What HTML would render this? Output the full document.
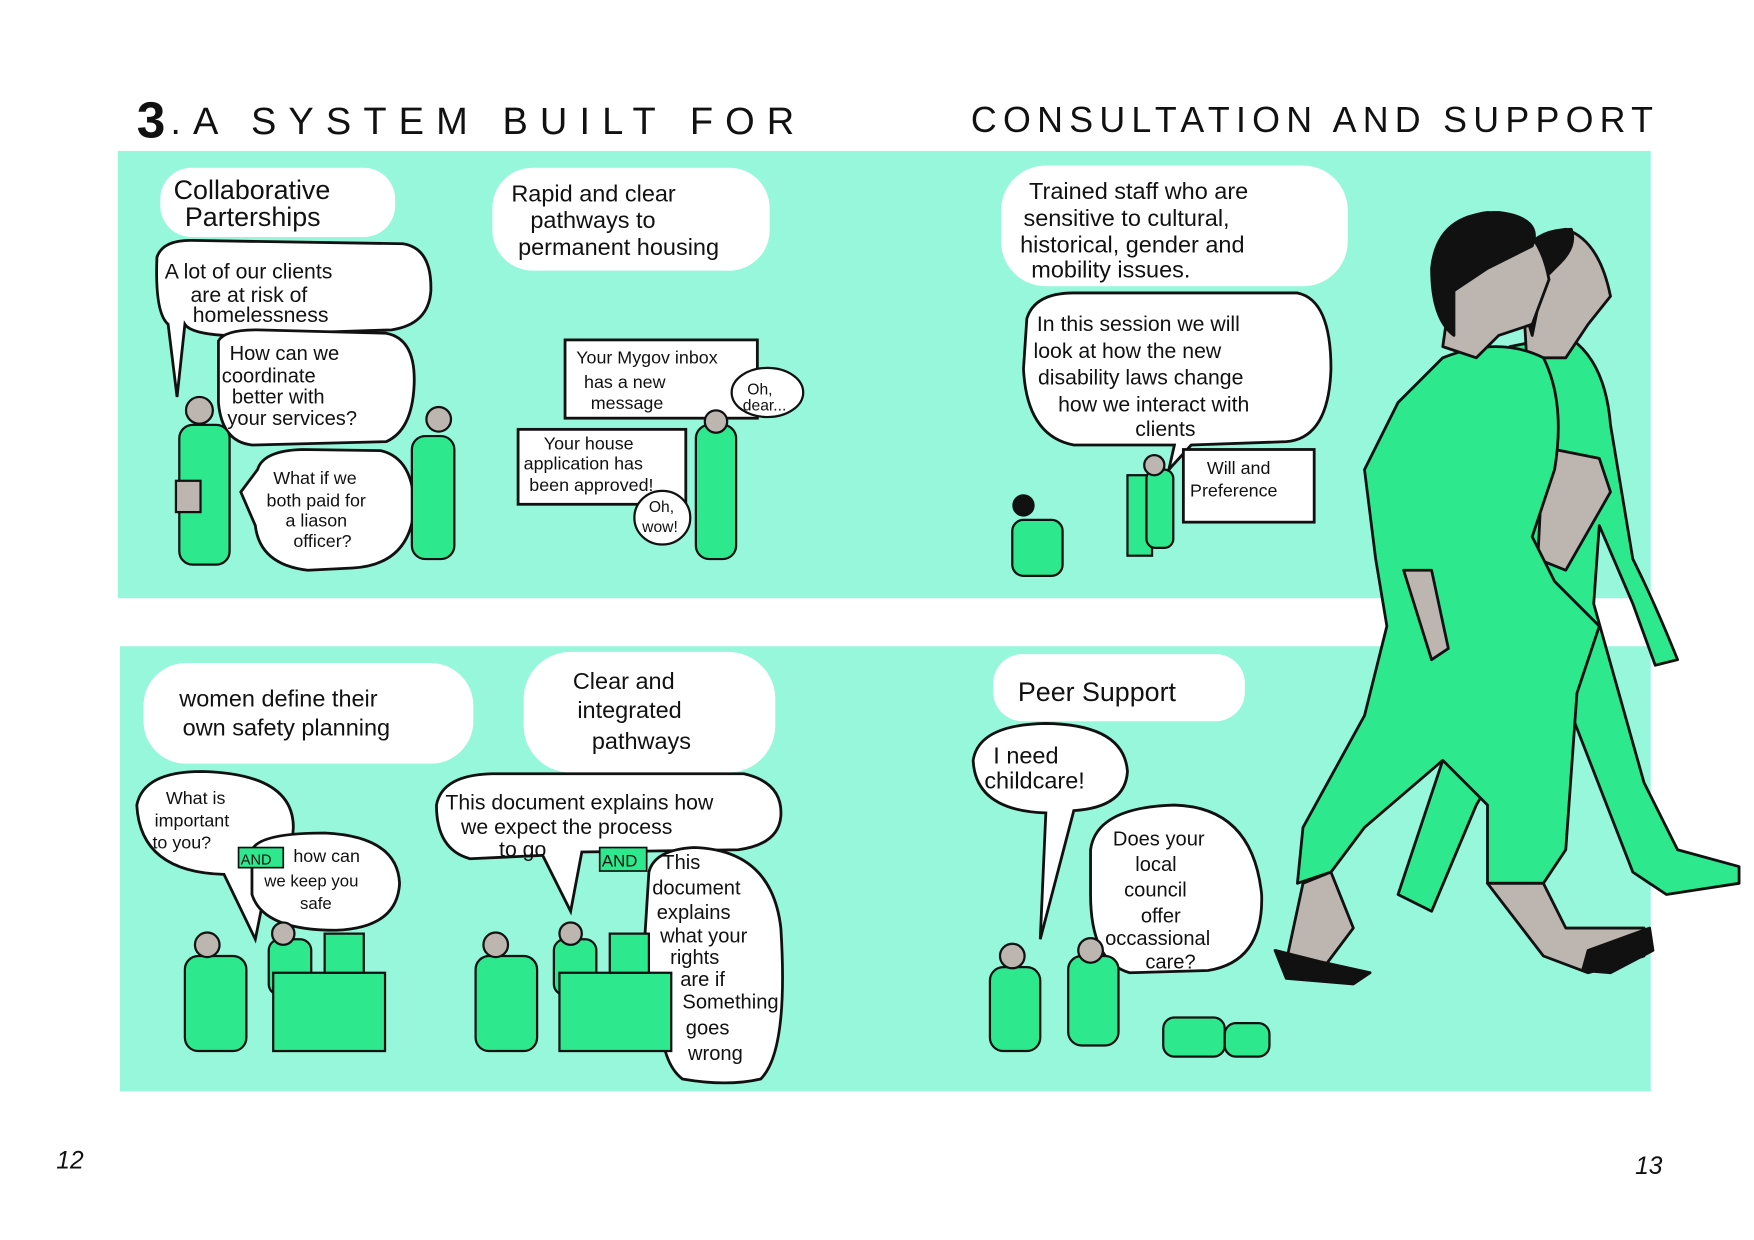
<!DOCTYPE html>
<html><head><meta charset="utf-8"><style>
html,body{margin:0;padding:0;background:#fff;}
svg{display:block}
text{font-family:"Liberation Sans",sans-serif;fill:#111;}
</style></head><body>
<svg width="1754" height="1240" viewBox="0 0 1568 1109" xmlns="http://www.w3.org/2000/svg">
<rect width="1568" height="1109" fill="#fff"/>
<!-- title -->
<text x="122" y="123" font-size="46" font-weight="bold">3</text>
<text x="152" y="120" font-size="34" textLength="558" lengthAdjust="spacing">.A SYSTEM  BUILT  FOR</text>
<text x="868" y="118" font-size="32" textLength="610" lengthAdjust="spacing">CONSULTATION  AND  SUPPORT</text>
<!-- panels -->
<rect x="105" y="135" width="1371" height="400" fill="#96f7da"/>
<rect x="107" y="578" width="1369" height="398" fill="#96f7da"/>

<g font-size="21">
<rect x="143" y="150" width="210" height="62" rx="28" fill="#fff"/>
<text x="155" y="178" font-size="24">Collaborative</text>
<text x="165" y="202" font-size="24">Parterships</text>
<rect x="440" y="150" width="248" height="92" rx="36" fill="#fff"/>
<text x="457" y="180" font-size="21">Rapid and clear</text>
<text x="474" y="204" font-size="21">pathways to</text>
<text x="463" y="228" font-size="21">permanent housing</text>
<rect x="895" y="148" width="310" height="108" rx="40" fill="#fff"/>
<text x="920" y="178">Trained staff who are</text>
<text x="915" y="202">sensitive to cultural,</text>
<text x="912" y="226">historical, gender and</text>
<text x="922" y="248">mobility issues.</text>

<path d="M140 230 Q145 215 170 215 L360 218 Q386 222 385 260 Q383 290 350 295 L200 300 Q170 298 165 290 L158 355 L150 290 Q138 280 140 230Z" fill="#fff" stroke="#111" stroke-width="2.5"/>
<text x="147" y="249" font-size="19">A lot of our clients</text>
<text x="170" y="270" font-size="19">are at risk of</text>
<text x="172" y="288" font-size="19">homelessness</text>
<path d="M195 305 Q200 295 230 295 L345 298 Q372 303 370 345 Q368 385 345 395 L225 398 Q198 395 195 360Z" fill="#fff" stroke="#111" stroke-width="2.5"/>
<text x="205" y="322" font-size="18">How can we</text>
<text x="198" y="342" font-size="18">coordinate</text>
<text x="207" y="361" font-size="18">better with</text>
<text x="203" y="380" font-size="18">your services?</text>
<path d="M230 420 Q235 403 270 402 L340 403 Q370 410 370 455 Q366 505 315 508 L275 510 Q232 505 228 470 L215 440Z" fill="#fff" stroke="#111" stroke-width="2.5"/>
<text x="244" y="433" font-size="16">What if we</text>
<text x="238" y="453" font-size="16">both paid for</text>
<text x="255" y="471" font-size="16">a liason</text>
<text x="262" y="489" font-size="16">officer?</text>

<rect x="505" y="304" width="172" height="70" fill="#fff" stroke="#111" stroke-width="2.5"/>
<text x="515" y="325" font-size="16">Your Mygov inbox</text>
<text x="522" y="347" font-size="16">has a new</text>
<text x="528" y="366" font-size="16">message</text>
<ellipse cx="686" cy="351" rx="32" ry="22" fill="#fff" stroke="#111" stroke-width="2"/>
<text x="668" y="353" font-size="14">Oh,</text><text x="664" y="367" font-size="14">dear...</text>
<rect x="463" y="384" width="150" height="67" fill="#fff" stroke="#111" stroke-width="2.5"/>
<text x="486" y="402" font-size="16">Your house</text>
<text x="468" y="420" font-size="16">application has</text>
<text x="473" y="439" font-size="16">been approved!</text>
<ellipse cx="592" cy="463" rx="25" ry="24" fill="#fff" stroke="#111" stroke-width="2"/>
<text x="580" y="458" font-size="14">Oh,</text><text x="574" y="476" font-size="14">wow!</text>

<path d="M918 285 Q925 262 960 262 L1160 262 Q1190 268 1190 330 Q1188 392 1150 395 L1065 398 L1045 420 L1050 398 L960 398 Q918 390 915 330Z" fill="#fff" stroke="#111" stroke-width="2.5"/>
<text x="927" y="296" font-size="19">In this session we will</text>
<text x="924" y="320" font-size="19">look at how the new</text>
<text x="928" y="344" font-size="19">disability laws change</text>
<text x="946" y="368" font-size="19">how we interact with</text>
<text x="1015" y="390" font-size="19">clients</text>
<rect x="1058" y="402" width="117" height="65" fill="#fff" stroke="#111" stroke-width="2.5"/>
<text x="1079" y="424" font-size="16">Will and</text>
<text x="1064" y="444" font-size="16">Preference</text>

<rect x="128" y="593" width="295" height="90" rx="38" fill="#fff"/>
<text x="160" y="632">women define their</text>
<text x="163" y="658">own safety planning</text>
<rect x="468" y="583" width="225" height="108" rx="42" fill="#fff"/>
<text x="512" y="616">Clear  and</text>
<text x="516" y="642">integrated</text>
<text x="529" y="670">pathways</text>
<rect x="888" y="585" width="225" height="60" rx="26" fill="#fff"/>
<text x="910" y="627" font-size="24">Peer  Support</text>

<path d="M122 720 Q128 690 180 690 Q262 692 262 740 Q260 775 240 780 L228 840 L200 782 Q125 780 122 720Z" fill="#fff" stroke="#111" stroke-width="2.5"/>
<text x="148" y="719" font-size="16">What is</text>
<text x="138" y="739" font-size="16">important</text>
<text x="136" y="759" font-size="16">to you?</text>
<path d="M225 760 Q232 745 290 745 Q355 748 357 790 Q355 830 300 832 Q235 832 225 800Z" fill="#fff" stroke="#111" stroke-width="2.5"/>
<rect x="213" y="758" width="40" height="18" fill="#2ee88e" stroke="#111" stroke-width="1.5"/>
<text x="215" y="773" font-size="13">AND</text>
<text x="262" y="771" font-size="16">how can</text>
<text x="236" y="793" font-size="15">we keep you</text>
<text x="268" y="813" font-size="15">safe</text>
<path d="M390 720 Q395 693 440 692 L665 692 Q700 700 698 730 Q696 755 660 760 L520 762 L510 815 L485 765 L420 768 Q390 760 390 720Z" fill="#fff" stroke="#111" stroke-width="2.5"/>
<text x="398" y="724" font-size="19">This document explains how</text>
<text x="412" y="746" font-size="19">we expect the process</text>
<text x="446" y="766" font-size="19">to go</text>
<path d="M580 780 Q585 760 620 758 Q690 760 698 830 Q705 940 680 965 Q650 972 610 965 Q590 950 590 900 L575 860 Z" fill="#fff" stroke="#111" stroke-width="2.5"/>
<rect x="536" y="758" width="42" height="21" fill="#2ee88e" stroke="#111" stroke-width="1.5"/>
<text x="538" y="775" font-size="15">AND</text>
<text x="592" y="777" font-size="18">This</text>
<text x="583" y="800" font-size="18">document</text>
<text x="587" y="822" font-size="18">explains</text>
<text x="590" y="843" font-size="18">what your</text>
<text x="599" y="862" font-size="18">rights</text>
<text x="608" y="882" font-size="18">are if</text>
<text x="610" y="902" font-size="18">Something</text>
<text x="613" y="925" font-size="18">goes</text>
<text x="615" y="948" font-size="18">wrong</text>
<path d="M870 680 Q875 648 935 647 Q1005 648 1008 690 Q1006 722 960 725 L930 840 L935 727 Q872 725 870 680Z" fill="#fff" stroke="#111" stroke-width="2.5"/>
<text x="888" y="683" font-size="21">I need</text>
<text x="880" y="705" font-size="21">childcare!</text>
<path d="M975 760 Q980 722 1050 720 Q1120 722 1128 800 Q1130 860 1080 868 L1010 870 Q975 860 975 800Z" fill="#fff" stroke="#111" stroke-width="2.5"/>
<text x="995" y="756" font-size="18">Does your</text>
<text x="1015" y="779" font-size="18">local</text>
<text x="1005" y="802" font-size="18">council</text>
<text x="1020" y="825" font-size="18">offer</text>
<text x="988" y="845" font-size="18">occassional</text>
<text x="1024" y="866" font-size="18">care?</text>
</g>

<g fill="#2ee88e" stroke="#111" stroke-width="2">
<rect x="160" y="380" width="45" height="125" rx="12"/>
<circle cx="178" cy="367" r="12" fill="#bdb5b0"/>
<rect x="157" y="430" width="22" height="28" fill="#bdb5b0"/>
<rect x="368" y="390" width="38" height="110" rx="12"/>
<circle cx="392" cy="375" r="11" fill="#bdb5b0"/>
<rect x="622" y="380" width="36" height="120" rx="12"/>
<circle cx="640" cy="377" r="10" fill="#bdb5b0"/>
<rect x="1008" y="425" width="22" height="72"/>
<rect x="1025" y="420" width="24" height="70" rx="8"/>
<circle cx="1032" cy="416" r="9" fill="#bdb5b0"/>
<rect x="905" y="465" width="45" height="50" rx="10"/>
<circle cx="915" cy="452" r="9" fill="#111"/>
<rect x="165" y="855" width="55" height="85" rx="12"/>
<circle cx="185" cy="845" r="11" fill="#bdb5b0"/>
<rect x="240" y="840" width="38" height="50" rx="10"/>
<circle cx="253" cy="835" r="10" fill="#bdb5b0"/>
<rect x="244" y="870" width="100" height="70"/>
<rect x="290" y="835" width="35" height="35"/>
<rect x="425" y="855" width="55" height="85" rx="12"/>
<circle cx="443" cy="845" r="11" fill="#bdb5b0"/>
<rect x="495" y="840" width="38" height="50" rx="10"/>
<circle cx="510" cy="835" r="10" fill="#bdb5b0"/>
<rect x="500" y="870" width="100" height="70"/>
<rect x="545" y="835" width="35" height="35"/>
<rect x="885" y="865" width="45" height="75" rx="12"/>
<circle cx="905" cy="855" r="11" fill="#bdb5b0"/>
<rect x="955" y="855" width="45" height="80" rx="12"/>
<circle cx="975" cy="850" r="11" fill="#bdb5b0"/>
<rect x="1040" y="910" width="55" height="35" rx="10"/>
<rect x="1095" y="915" width="40" height="30" rx="10"/>
</g>

<g stroke="#111" stroke-width="2.5" stroke-linejoin="round">
<path d="M1350 310 L1400 300 Q1435 320 1440 380 L1460 500 Q1480 540 1500 590 L1480 595 L1460 540 L1430 470 L1425 540 L1470 700 L1500 760 L1555 775 L1555 790 L1490 800 L1460 780 L1390 600 L1320 720 L1280 815 L1250 800 L1300 650 L1360 540 L1340 450Z" fill="#2ee88e"/>
<path d="M1360 230 Q1370 210 1400 205 Q1430 215 1440 265 L1420 290 L1400 320 L1365 320Z" fill="#bdb5b0"/>
<path d="M1355 250 Q1360 205 1405 205 Q1410 220 1395 235 L1380 250 L1370 300Z" fill="#111"/>
<path d="M1380 400 L1430 410 L1440 440 L1400 510 L1375 500Z" fill="#bdb5b0"/>
<path d="M1290 320 Q1340 300 1380 320 Q1400 360 1390 420 L1370 480 L1390 520 L1430 560 L1410 620 L1400 760 L1380 790 L1330 790 L1330 720 L1290 680 L1220 740 L1190 780 L1160 790 L1165 740 L1220 640 L1240 560 L1230 500 L1220 420 L1250 360Z" fill="#2ee88e"/>
<path d="M1300 240 Q1290 195 1330 190 Q1375 195 1385 250 L1370 290 L1340 300 L1320 320 L1290 310Z" fill="#bdb5b0"/>
<path d="M1280 240 Q1285 190 1340 190 Q1380 195 1370 220 L1330 240 L1300 260 L1300 300 Q1280 285 1280 240Z" fill="#111"/>
<path d="M1330 790 L1380 790 L1400 830 L1470 830 L1470 855 L1420 870 L1380 855Z" fill="#bdb5b0"/>
<path d="M1165 790 L1190 780 L1210 830 L1180 870 L1150 860Z" fill="#bdb5b0"/>
<path d="M1140 850 L1180 860 L1225 870 L1210 880 L1150 875Z" fill="#111"/>
<path d="M1420 850 L1475 830 L1478 850 L1440 870 L1415 868Z" fill="#111"/>
<path d="M1255 510 L1280 510 L1295 580 L1280 590Z" fill="#bdb5b0"/>
</g>

<text x="50" y="1045" font-size="22" font-style="italic">12</text>
<text x="1462" y="1050" font-size="22" font-style="italic">13</text>
</svg>
</body></html>
